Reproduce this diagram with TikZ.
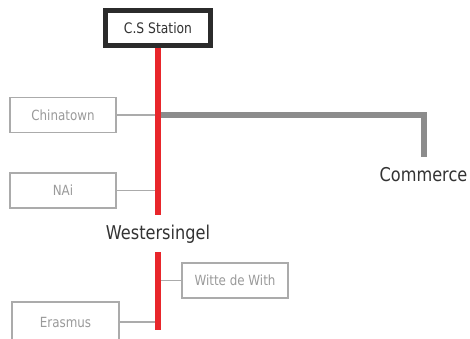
\documentclass[tikz,border=0pt]{standalone}
\usepackage{fontspec}
\setmainfont{DejaVu Sans}[FakeStretch=0.85]
\definecolor{metrored}{HTML}{E8262B}
\definecolor{linegray}{HTML}{8C8C8C}
\definecolor{boxgray}{HTML}{ABABAB}
\definecolor{labelgray}{HTML}{9A9A9A}
\definecolor{hubdark}{HTML}{2B2B2B}
\definecolor{textdark}{HTML}{333333}
\begin{document}
\begin{tikzpicture}[x=1pt, y=-1pt,
    stop/.style={draw=boxgray, line width=1.5pt, fill=white, text=labelgray,
      font=\fontsize{14}{16}\selectfont, minimum width=106pt, minimum height=35pt, inner sep=0pt},
    hub/.style={draw=hubdark, line width=5pt, fill=white, text=textdark,
      font=\fontsize{14.5}{16}\selectfont, minimum width=105pt, minimum height=35pt, inner sep=0pt},
    bigname/.style={text=textdark, font=\fontsize{19}{21}\selectfont, inner sep=0pt},
    redline/.style={metrored, line width=6pt},
    tramline/.style={linegray, line width=6pt},
    link/.style={boxgray, line width=1.5pt}]
  \useasboundingbox (0,0) rectangle (470,338);
  \clip (0,0) rectangle (470,338);
  \fill[white] (0,0) rectangle (470,338);
  % points on the red line
  \coordinate (j1) at (158,115);
  \coordinate (j2) at (158,190.5);
  \coordinate (j3) at (158,280.5);
  \coordinate (j4) at (158,322);
  \coordinate (rtop) at (158,40);
  \coordinate (rend) at (158,330);
  \coordinate (cend) at (423.5,157);
  % stations
  \node[stop] (chinatown) at (63,115) {Chinatown};
  \node[stop] (nai) at (63,190.5) {NAi};
  \node[stop] (witte) at (235,280.5) {Witte de With};
  \node[stop, minimum width=107pt, minimum height=40pt] (erasmus) at (65.5,322) {Erasmus};
  \node[bigname] (wester) at (158,234) {Westersingel};
  \node[bigname] (commerce) at (423.5,175) {Commerce};
  % links
  \draw[link] (chinatown) -- (j1);
  \draw[link] (nai) -- (j2);
  \draw[link] (witte) -- (j3);
  \draw[link] (erasmus) -- (j4);
  \draw[tramline] (j1) -| (cend);
  \draw[redline, shorten >=10pt] (rtop) -- (wester.north);
  \draw[redline, shorten <=9pt] (wester.south) -- (rend);
  \node[hub] (cs) at (158,28) {C.S Station};
\end{tikzpicture}
\end{document}
